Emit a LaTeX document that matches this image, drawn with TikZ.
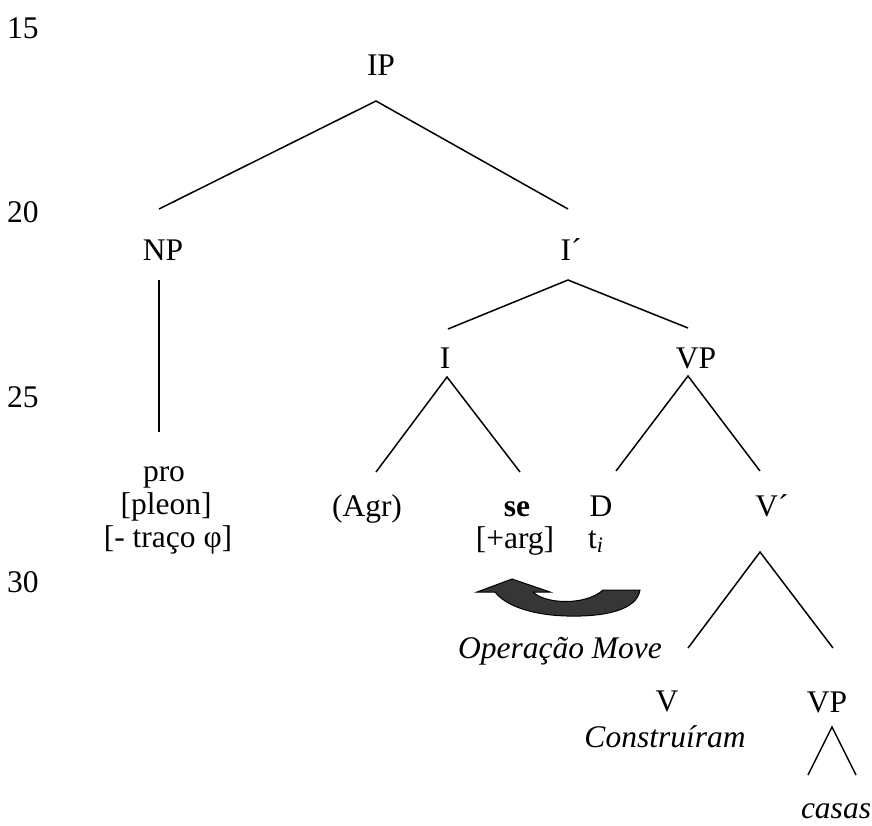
\documentclass[tikz,border=0pt]{standalone}
\usepackage{fontspec}
\setmainfont{Liberation Serif}
\usepackage{xcolor}
\definecolor{movefill}{HTML}{363636}

\begin{document}
\begin{tikzpicture}[x=0.5pt, y=-0.5pt,
  lbl/.style={inner sep=0pt, anchor=base, font=\fontsize{15.75}{16}\selectfont},
  branch/.style={line width=0.75pt}]
  \fill[white] (0,0) rectangle (872,825);
  \useasboundingbox (0,0) rectangle (872,825);
  % Line numbers
  \node[lbl] (n15) at (23,38) {15};
  \node[lbl] (n20) at (23,222) {20};
  \node[lbl] (n25) at (23,407) {25};
  \node[lbl] (n30) at (23,592) {30};
  % Labels
  \node[lbl] (ip) at (381,75) {IP};
  \node[lbl] (np) at (163,260) {NP};
  \node[lbl] (ibar) at (571,260) {I´};
  \node[lbl] (i) at (445,368) {I};
  \node[lbl] (vp) at (696,368) {VP};
  \node[lbl] (pro) at (164,481) {pro};
  \node[lbl] (pleon) at (166,514) {[pleon]};
  \node[lbl] (phi) at (168,547) {[- traço φ]};
  \node[lbl] (agr) at (367,516) {(Agr)};
  \node[lbl] (se) at (517,516) {\textbf{se}};
  \node[lbl] (arg) at (515,548) {[+arg]};
  \node[lbl] (d) at (601,516) {D};
  \node[lbl] (trace) at (596,548) {t\textsubscript{\itshape i}};
  \node[lbl] (vbar) at (772,516) {V´};
  \node[lbl] (move) at (560,658) {\itshape Operação Move};
  \node[lbl] (v) at (667,711) {V};
  \node[lbl] (verb) at (665,747) {\itshape Construíram};
  \node[lbl] (vp2) at (827,712) {VP};
  \node[lbl] (obj) at (836,818) {\itshape casas};
  % Attachment points
  \coordinate (ip-b) at (376,101);
  \coordinate (np-t) at (159,209);
  \coordinate (np-b) at (159,280);
  \coordinate (pro-t) at (159,432);
  \coordinate (ibar-t) at (568,209);
  \coordinate (ibar-b) at (568,280);
  \coordinate (i-t) at (448,329);
  \coordinate (i-b) at (447,377);
  \coordinate (vp-t) at (688,328);
  \coordinate (vp-b) at (688,376);
  \coordinate (agr-t) at (376,472);
  \coordinate (se-t) at (520,472);
  \coordinate (d-t) at (616,471);
  \coordinate (vbar-t) at (760,471);
  \coordinate (vbar-b) at (760,552);
  \coordinate (v-t) at (688,648);
  \coordinate (vp2-t) at (833,648);
  \coordinate (vp2-b) at (832,727);
  \coordinate (obj-l) at (808,775);
  \coordinate (obj-r) at (856,775);
  % Branches
  \draw[branch] (np-t) -- (ip-b) -- (ibar-t);
  \draw[branch] (np-b) -- (pro-t);
  \draw[branch] (i-t) -- (ibar-b) -- (vp-t);
  \draw[branch] (agr-t) -- (i-b) -- (se-t);
  \draw[branch] (d-t) -- (vp-b) -- (vbar-t);
  \draw[branch] (v-t) -- (vbar-b) -- (vp2-t);
  \draw[branch] (obj-l) -- (vp2-b) -- (obj-r);
  % Movement arrow
  \filldraw[fill=movefill, draw=black, line width=0.5pt]
    (477,592) -- (512,579) -- (550,592) -- (533,592)
    .. controls (545,604) and (585,606) .. (603,590)
    -- (640,590)
    .. controls (637,610) and (605,617) .. (567,616)
    .. controls (530,615) and (505,605) .. (495,592)
    -- cycle;
\end{tikzpicture}
\end{document}
